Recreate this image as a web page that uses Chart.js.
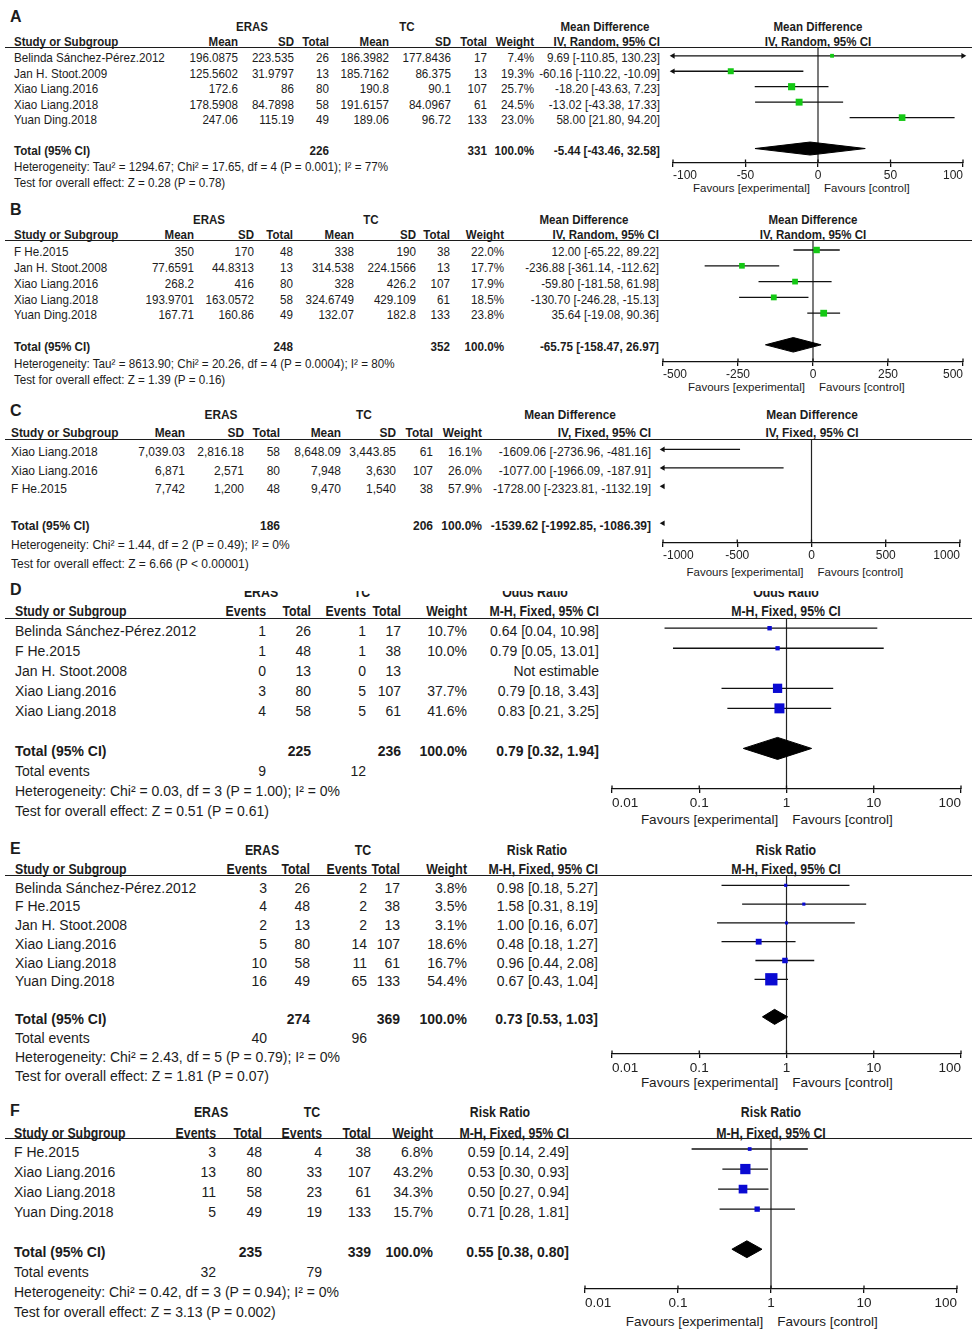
<!DOCTYPE html>
<html><head><meta charset="utf-8">
<script src="https://cdn.jsdelivr.net/npm/chart.js@4.4.1/dist/chart.umd.min.js"></script>
<style>
html,body{margin:0;padding:0;background:#fff;}
#page{position:relative;width:972px;height:1339px;overflow:hidden;font-family:"Liberation Sans",Arial,sans-serif;color:#1c1c1c;}
.t{position:absolute;white-space:nowrap;line-height:1;}
.hl{position:absolute;height:0;border-top:1.3px solid #1c1c1c;}
canvas{position:absolute;}
</style></head><body><div id="page"></div>
<script>
// ---------------- DATA ----------------
// Panel A
const A_study = ["Belinda Sánchez-Pérez.2012","Jan H. Stoot.2009","Xiao Liang.2016","Xiao Liang.2018","Yuan Ding.2018"];
const A_erasMean = [196.0875,125.5602,172.6,178.5908,247.06];
const A_erasSD = [223.535,31.9797,86,84.7898,115.19];
const A_erasN = [26,13,80,58,49];
const A_tcMean = [186.3982,185.7162,190.8,191.6157,189.06];
const A_tcSD = [177.8436,86.375,90.1,84.0967,96.72];
const A_tcN = [17,13,107,61,133];
const A_weight = [7.4,19.3,25.7,24.5,23.0];
const A_est = [9.69,-60.16,-18.20,-13.02,58.00];
const A_lo = [-110.85,-110.22,-43.63,-43.38,21.80];
const A_hi = [130.23,-10.09,7.23,17.33,94.20];
const A_totalN = [226,331];
const A_totalEffect = [-5.44,-43.46,32.58];
const A_stats = ["Heterogeneity: Tau² = 1294.67; Chi² = 17.65, df = 4 (P = 0.001); I² = 77%","Test for overall effect: Z = 0.28 (P = 0.78)"];
const A_ticks = [-100,-50,0,50,100];
const A_tickLabels = ["-100","-50","0","50","100"];

// Panel B
const B_study = ["F He.2015","Jan H. Stoot.2008","Xiao Liang.2016","Xiao Liang.2018","Yuan Ding.2018"];
const B_erasMean = [350,77.6591,268.2,193.9701,167.71];
const B_erasSD = [170,44.8313,416,163.0572,160.86];
const B_erasN = [48,13,80,58,49];
const B_tcMean = [338,314.538,328,324.6749,132.07];
const B_tcSD = [190,224.1566,426.2,429.109,182.8];
const B_tcN = [38,13,107,61,133];
const B_weight = [22.0,17.7,17.9,18.5,23.8];
const B_est = [12.00,-236.88,-59.80,-130.70,35.64];
const B_lo = [-65.22,-361.14,-181.58,-246.28,-19.08];
const B_hi = [89.22,-112.62,61.98,-15.13,90.36];
const B_totalN = [248,352];
const B_totalEffect = [-65.75,-158.47,26.97];
const B_stats = ["Heterogeneity: Tau² = 8613.90; Chi² = 20.26, df = 4 (P = 0.0004); I² = 80%","Test for overall effect: Z = 1.39 (P = 0.16)"];
const B_ticks = [-500,-250,0,250,500];
const B_tickLabels = ["-500","-250","0","250","500"];

// Panel C
const C_study = ["Xiao Liang.2018","Xiao Liang.2016","F He.2015"];
const C_erasMean = [7039.03,6871,7742];
const C_erasSD = [2816.18,2571,1200];
const C_erasN = [58,80,48];
const C_tcMean = [8648.09,7948,9470];
const C_tcSD = [3443.85,3630,1540];
const C_tcN = [61,107,38];
const C_weight = [16.1,26.0,57.9];
const C_est = [-1609.06,-1077.00,-1728.00];
const C_lo = [-2736.96,-1966.09,-2323.81];
const C_hi = [-481.16,-187.91,-1132.19];
const C_totalN = [186,206];
const C_totalEffect = [-1539.62,-1992.85,-1086.39];
const C_stats = ["Heterogeneity: Chi² = 1.44, df = 2 (P = 0.49); I² = 0%","Test for overall effect: Z = 6.66 (P < 0.00001)"];
const C_ticks = [-1000,-500,0,500,1000];
const C_tickLabels = ["-1000","-500","0","500","1000"];

// Panel D
const D_study = ["Belinda Sánchez-Pérez.2012","F He.2015","Jan H. Stoot.2008","Xiao Liang.2016","Xiao Liang.2018"];
const D_erasEvents = [1,1,0,3,4];
const D_erasN = [26,48,13,80,58];
const D_tcEvents = [1,1,0,5,5];
const D_tcN = [17,38,13,107,61];
const D_weight = [10.7,10.0,null,37.7,41.6];
const D_est = [0.64,0.79,null,0.79,0.83];
const D_lo = [0.04,0.05,null,0.18,0.21];
const D_hi = [10.98,13.01,null,3.43,3.25];
const D_totalN = [225,236];
const D_totalEvents = [9,12];
const D_totalEffect = [0.79,0.32,1.94];
const D_stats = ["Heterogeneity: Chi² = 0.03, df = 3 (P = 1.00); I² = 0%","Test for overall effect: Z = 0.51 (P = 0.61)"];
const D_ticks = [0.01,0.1,1,10,100];
const D_tickLabels = ["0.01","0.1","1","10","100"];

// Panel E
const E_study = ["Belinda Sánchez-Pérez.2012","F He.2015","Jan H. Stoot.2008","Xiao Liang.2016","Xiao Liang.2018","Yuan Ding.2018"];
const E_erasEvents = [3,4,2,5,10,16];
const E_erasN = [26,48,13,80,58,49];
const E_tcEvents = [2,2,2,14,11,65];
const E_tcN = [17,38,13,107,61,133];
const E_weight = [3.8,3.5,3.1,18.6,16.7,54.4];
const E_est = [0.98,1.58,1.00,0.48,0.96,0.67];
const E_lo = [0.18,0.31,0.16,0.18,0.44,0.43];
const E_hi = [5.27,8.19,6.07,1.27,2.08,1.04];
const E_totalN = [274,369];
const E_totalEvents = [40,96];
const E_totalEffect = [0.73,0.53,1.03];
const E_stats = ["Heterogeneity: Chi² = 2.43, df = 5 (P = 0.79); I² = 0%","Test for overall effect: Z = 1.81 (P = 0.07)"];
const E_ticks = [0.01,0.1,1,10,100];
const E_tickLabels = ["0.01","0.1","1","10","100"];

// Panel F
const F_study = ["F He.2015","Xiao Liang.2016","Xiao Liang.2018","Yuan Ding.2018"];
const F_erasEvents = [3,13,11,5];
const F_erasN = [48,80,58,49];
const F_tcEvents = [4,33,23,19];
const F_tcN = [38,107,61,133];
const F_weight = [6.8,43.2,34.3,15.7];
const F_est = [0.59,0.53,0.50,0.71];
const F_lo = [0.14,0.30,0.27,0.28];
const F_hi = [2.49,0.93,0.94,1.81];
const F_totalN = [235,339];
const F_totalEvents = [32,79];
const F_totalEffect = [0.55,0.38,0.80];
const F_stats = ["Heterogeneity: Chi² = 0.42, df = 3 (P = 0.94); I² = 0%","Test for overall effect: Z = 3.13 (P = 0.002)"];
const F_ticks = [0.01,0.1,1,10,100];
const F_tickLabels = ["0.01","0.1","1","10","100"];

// ---------------- LAYOUT / STYLE ----------------
const W = 972;
const FONT = '"Liberation Sans", Arial, sans-serif';
const GREEN = '#14c814';
const BLUE = '#0a0ad2';
const LAY = {
  A:{letterY:17, h1Y:27, h2Y:41.5, lineY:47.7, row0:55.5, rowH:15.5, statH:16, fs:12.8, sx:0.91, hsx:0.9, textDy:2.5, studyX:14,
     cols:[238,294,329,389,451,487,534,660], erasX:252, tcX:407, effX:605,
     plotL:673, plotR:963, axisY:163, favY:189, tickFs:12, favFs:11.5, dh:0.42},
  B:{letterY:210, h1Y:220, h2Y:234.5, lineY:240.7, row0:249.7, rowH:15.8, statH:16.5, fs:12.8, sx:0.91, hsx:0.9, textDy:2.5, studyX:14,
     cols:[194,254,293,354,416,450,504,659], erasX:209, tcX:371, effX:584,
     plotL:663, plotR:963, axisY:361.7, favY:388, tickFs:12, favFs:11.5, dh:0.46},
  C:{letterY:411, h1Y:415, h2Y:433, lineY:440, row0:449.5, rowH:18.5, statH:19, fs:13.2, sx:0.91, hsx:0.9, textDy:2.5, studyX:11,
     cols:[185,244,280,341,396,433,482,651], erasX:221, tcX:364, effX:570,
     plotL:663, plotR:960, axisY:543.3, favY:572.5, tickFs:12, favFs:11.5, dh:0.4},
  D:{letterY:590, h1Y:591.5, h2Y:610.5, lineY:618.3, row0:628.5, rowH:20, statH:20, fs:14, sx:1, hsx:0.88, textDy:2.5, studyX:15,
     cols:[266,311,366,401,467,599], erasX:261, tcX:362, effX:535, clipTop:590.5,
     plotL:611.7, plotR:960.7, axisY:789, favY:820, tickFs:13.5, favFs:13.5, dh:0.55},
  E:{letterY:849, h1Y:850, h2Y:869, lineY:875.7, row0:885, rowH:18.75, statH:19, fs:14, sx:1, hsx:0.88, textDy:2.5, studyX:15,
     cols:[267,310,367,400,467,598], erasX:262, tcX:363, effX:537,
     plotL:611.7, plotR:960.7, axisY:1053.3, favY:1083, tickFs:13.5, favFs:13.5, dh:0.4},
  F:{letterY:1111, h1Y:1112, h2Y:1132.5, lineY:1138.3, row0:1149.3, rowH:20, statH:20, fs:14, sx:1, hsx:0.88, textDy:2.5, studyX:14,
     cols:[216,262,322,371,433,569], erasX:211, tcX:312, effX:500,
     plotL:585, plotR:957.3, axisY:1289, favY:1322, tickFs:13.5, favFs:13.5, dh:0.42}
};

const plain = v => String(v);
const thousands = v => v.toLocaleString('en-US', {maximumFractionDigits: 4});

const PANELS = [
  {letter:'A', kind:'cont', study:A_study, cells:[A_erasMean,A_erasSD,A_erasN,A_tcMean,A_tcSD,A_tcN], weight:A_weight, est:A_est, lo:A_lo, hi:A_hi,
   totalN:A_totalN, totalEff:A_totalEffect, stats:A_stats, ticks:A_ticks, tickLabels:A_tickLabels,
   effectName:'Mean Difference', method:'IV, Random, 95% CI', color:GREEN, log:false, nullValue:0, fmt:plain},
  {letter:'B', kind:'cont', study:B_study, cells:[B_erasMean,B_erasSD,B_erasN,B_tcMean,B_tcSD,B_tcN], weight:B_weight, est:B_est, lo:B_lo, hi:B_hi,
   totalN:B_totalN, totalEff:B_totalEffect, stats:B_stats, ticks:B_ticks, tickLabels:B_tickLabels,
   effectName:'Mean Difference', method:'IV, Random, 95% CI', color:GREEN, log:false, nullValue:0, fmt:plain},
  {letter:'C', kind:'cont', study:C_study, cells:[C_erasMean,C_erasSD,C_erasN,C_tcMean,C_tcSD,C_tcN], weight:C_weight, est:C_est, lo:C_lo, hi:C_hi,
   totalN:C_totalN, totalEff:C_totalEffect, stats:C_stats, ticks:C_ticks, tickLabels:C_tickLabels,
   effectName:'Mean Difference', method:'IV, Fixed, 95% CI', color:GREEN, log:false, nullValue:0, fmt:thousands},
  {letter:'D', kind:'dich', study:D_study, cells:[D_erasEvents,D_erasN,D_tcEvents,D_tcN], weight:D_weight, est:D_est, lo:D_lo, hi:D_hi,
   totalN:D_totalN, totalEvents:D_totalEvents, totalEff:D_totalEffect, stats:D_stats, ticks:D_ticks, tickLabels:D_tickLabels,
   effectName:'Odds Ratio', method:'M-H, Fixed, 95% CI', color:BLUE, log:true, nullValue:1, fmt:plain},
  {letter:'E', kind:'dich', study:E_study, cells:[E_erasEvents,E_erasN,E_tcEvents,E_tcN], weight:E_weight, est:E_est, lo:E_lo, hi:E_hi,
   totalN:E_totalN, totalEvents:E_totalEvents, totalEff:E_totalEffect, stats:E_stats, ticks:E_ticks, tickLabels:E_tickLabels,
   effectName:'Risk Ratio', method:'M-H, Fixed, 95% CI', color:BLUE, log:true, nullValue:1, fmt:plain},
  {letter:'F', kind:'dich', study:F_study, cells:[F_erasEvents,F_erasN,F_tcEvents,F_tcN], weight:F_weight, est:F_est, lo:F_lo, hi:F_hi,
   totalN:F_totalN, totalEvents:F_totalEvents, totalEff:F_totalEffect, stats:F_stats, ticks:F_ticks, tickLabels:F_tickLabels,
   effectName:'Risk Ratio', method:'M-H, Fixed, 95% CI', color:BLUE, log:true, nullValue:1, fmt:plain}
];

// ---------------- BUILD ----------------
const page = document.getElementById('page');
function put(x, y, text, opt = {}) {
  const d = document.createElement('div');
  d.className = 't';
  d.textContent = text;
  d.style.left = x + 'px';
  d.style.top = y + 'px';
  d.style.fontSize = (opt.size || 12) + 'px';
  if (opt.bold) d.style.fontWeight = 'bold';
  const tx = opt.align === 'right' ? '-100%' : opt.align === 'center' ? '-50%' : '0';
  const ox = opt.align === 'right' ? '100%' : opt.align === 'center' ? '50%' : '0';
  d.style.transformOrigin = ox + ' 50%';
  d.style.transform = 'translate(' + tx + ', -50%)' + (opt.sx && opt.sx !== 1 ? ' scaleX(' + opt.sx + ')' : '');
  (opt.parent || page).appendChild(d);
  return d;
}
function hline(x1, x2, y) {
  const d = document.createElement('div');
  d.className = 'hl';
  d.style.left = x1 + 'px'; d.style.width = (x2 - x1) + 'px'; d.style.top = (y - 0.65) + 'px';
  page.appendChild(d);
}
const ci = (e, l, h) => e == null ? 'Not estimable' : e.toFixed(2) + ' [' + l.toFixed(2) + ', ' + h.toFixed(2) + ']';

function buildTable(P) {
  const L = LAY[P.letter];
  const fs = L.fs, sx = L.sx, hsx = L.hsx;
  const tx = {size:fs, sx:sx};
  const txR = {size:fs, sx:sx, align:'right'};
  const bd = {size:fs, sx:hsx, bold:true};
  const bdR = {size:fs, sx:hsx, bold:true, align:'right'};
  const bdC = {size:fs, sx:hsx, bold:true, align:'center'};
  put(10, L.letterY, P.letter, {bold:true, size:16});
  let par = page, off = 0;
  if (L.clipTop != null) {
    par = document.createElement('div');
    par.style.cssText = 'position:absolute;left:0;top:' + L.clipTop + 'px;width:' + W + 'px;height:30px;overflow:hidden;';
    page.appendChild(par); off = L.clipTop;
  }
  const center = (L.plotL + L.plotR) / 2;
  put(L.erasX, L.h1Y - off, 'ERAS', Object.assign({parent:par}, bdC));
  put(L.tcX, L.h1Y - off, 'TC', Object.assign({parent:par}, bdC));
  put(L.effX, L.h1Y - off, P.effectName, Object.assign({parent:par}, bdC));
  put(center, L.h1Y - off, P.effectName, Object.assign({parent:par}, bdC));
  const heads = P.kind === 'cont' ? ['Mean','SD','Total','Mean','SD','Total','Weight',P.method]
                                  : ['Events','Total','Events','Total','Weight',P.method];
  put(L.studyX, L.h2Y, 'Study or Subgroup', bd);
  heads.forEach((h, j) => put(L.cols[j], L.h2Y, h, bdR));
  put(center, L.h2Y, P.method, bdC);
  hline(5, W, L.lineY);
  const nc = P.cells.length;
  P.study.forEach((s, i) => {
    const y = L.row0 + i * L.rowH + L.textDy;
    put(L.studyX, y, s, tx);
    P.cells.forEach((arr, j) => put(L.cols[j], y, P.fmt(arr[i]), txR));
    if (P.weight[i] != null) put(L.cols[nc], y, P.weight[i].toFixed(1) + '%', txR);
    put(L.cols[nc + 1], y, ci(P.est[i], P.lo[i], P.hi[i]), txR);
  });
  const n = P.study.length;
  let y = L.row0 + (n + 1) * L.rowH + L.textDy;
  const tb = {size:fs, sx:sx, bold:true};
  const tbR = {size:fs, sx:sx, bold:true, align:'right'};
  put(L.studyX, y, 'Total (95% CI)', tb);
  const tc = P.kind === 'cont' ? [2, 5] : [1, 3];
  put(L.cols[tc[0]], y, String(P.totalN[0]), tbR);
  put(L.cols[tc[1]], y, String(P.totalN[1]), tbR);
  put(L.cols[nc], y, '100.0%', tbR);
  put(L.cols[nc + 1], y, ci(P.totalEff[0], P.totalEff[1], P.totalEff[2]), tbR);
  if (P.totalEvents) {
    y += L.statH;
    put(L.studyX, y, 'Total events', tx);
    put(L.cols[0], y, String(P.totalEvents[0]), txR);
    put(L.cols[2], y, String(P.totalEvents[1]), txR);
  }
  P.stats.forEach(s => { y += L.statH; put(L.studyX, y, s, tx); });
  put(center - 8, L.favY, 'Favours [experimental]', {size:L.favFs, align:'right'});
  put(center + 6, L.favY, 'Favours [control]', {size:L.favFs});
}

function buildChart(P) {
  const L = LAY[P.letter];
  const pad = 28, axisH = 28;
  const cv = document.createElement('canvas');
  const w = Math.round(L.plotR - L.plotL + 2 * pad);
  const h = Math.round(L.axisY - L.lineY + axisH);
  cv.width = w; cv.height = h;
  cv.style.width = w + 'px'; cv.style.height = h + 'px';
  cv.style.left = (L.plotL - pad) + 'px';
  cv.style.top = L.lineY + 'px';
  page.appendChild(cv);
  const n = P.study.length;
  const xmin = P.ticks[0], xmax = P.ticks[P.ticks.length - 1];
  const clamp = v => Math.min(xmax, Math.max(xmin, v));
  const rows = [];
  P.est.forEach((e, i) => { if (e != null) rows.push({e, lo:P.lo[i], hi:P.hi[i], w:P.weight[i], y:i}); });
  const datasets = [];
  rows.forEach(r => datasets.push({
    type:'line', data:[{x:clamp(r.lo), y:r.y}, {x:clamp(r.hi), y:r.y}],
    borderColor:'#111', borderWidth:1.3, pointRadius:0, clip:false, order:3
  }));
  // squares sized from weight
  datasets.push({
    type:'scatter', data:rows.map(r => ({x:r.e, y:r.y, w:r.w})),
    pointStyle:'rect', pointRadius:ctx => (2.5 + 0.18 * ctx.raw.w) / Math.SQRT2,
    backgroundColor:P.color, borderWidth:0, order:1
  });
  // arrows where the CI leaves the axis range
  const arrows = [];
  rows.forEach(r => {
    if (r.lo < xmin) arrows.push({x:xmin, y:r.y, rot:-90});
    if (r.hi > xmax) arrows.push({x:xmax, y:r.y, rot:90});
  });
  const [te, tlo, thi] = P.totalEff;
  const ty = n + 1;
  if (tlo < xmin) arrows.push({x:xmin, y:ty, rot:-90});
  if (thi > xmax) arrows.push({x:xmax, y:ty, rot:90});
  datasets.push({
    type:'scatter', data:arrows, pointStyle:'triangle',
    rotation:ctx => ctx.raw ? ctx.raw.rot : 0, pointRadius:3.3,
    backgroundColor:'#111', borderWidth:0, clip:false, order:0
  });
  // pooled diamond
  datasets.push({
    type:'line',
    data:[{x:tlo, y:ty}, {x:te, y:ty - L.dh}, {x:thi, y:ty}, {x:te, y:ty + L.dh}, {x:tlo, y:ty}],
    borderColor:'#000', borderWidth:1, backgroundColor:'#000', fill:'shape', pointRadius:0, tension:0, order:2
  });
  const refLine = {
    id:'refLine',
    beforeDatasetsDraw(chart) {
      const {ctx, chartArea:a, scales:{x}} = chart;
      const px = x.getPixelForValue(P.nullValue);
      ctx.save();
      ctx.strokeStyle = '#222'; ctx.lineWidth = 1.2;
      ctx.beginPath(); ctx.moveTo(px, a.top); ctx.lineTo(px, a.bottom); ctx.stroke();
      ctx.strokeStyle = '#111'; ctx.lineWidth = 1.3;
      ctx.beginPath();
      x.ticks.forEach(t => { const tx = x.getPixelForValue(t.value); ctx.moveTo(tx, a.bottom - 3.5); ctx.lineTo(tx, a.bottom); });
      ctx.stroke();
      ctx.restore();
    }
  };
  new Chart(cv, {
    type:'scatter',
    data:{datasets},
    options:{
      responsive:false, animation:false, events:[],
      layout:{autoPadding:false, padding:{left:pad, right:pad, top:0, bottom:0}},
      plugins:{legend:{display:false}, tooltip:{enabled:false}},
      scales:{
        x:{
          type:P.log ? 'logarithmic' : 'linear', min:xmin, max:xmax,
          afterBuildTicks:s => { s.ticks = P.ticks.map(v => ({value:v})); },
          afterFit:s => { s.height = axisH; },
          ticks:{callback:(v, i) => P.tickLabels[i], font:{family:FONT, size:L.tickFs}, color:'#222',
                 padding:P.log ? 2 : 1, maxRotation:0, autoSkip:false, align:'inner'},
          grid:{display:true, drawOnChartArea:false, drawTicks:true, tickLength:4, color:'#111', lineWidth:1.3},
          border:{display:true, color:'#111', width:1.3}
        },
        y:{type:'linear', reverse:true, display:false,
           min:(L.lineY - L.row0) / L.rowH, max:(L.axisY - L.row0) / L.rowH}
      }
    },
    plugins:[refLine]
  });
}

PANELS.forEach(P => { buildTable(P); buildChart(P); });
</script>
</body></html>
